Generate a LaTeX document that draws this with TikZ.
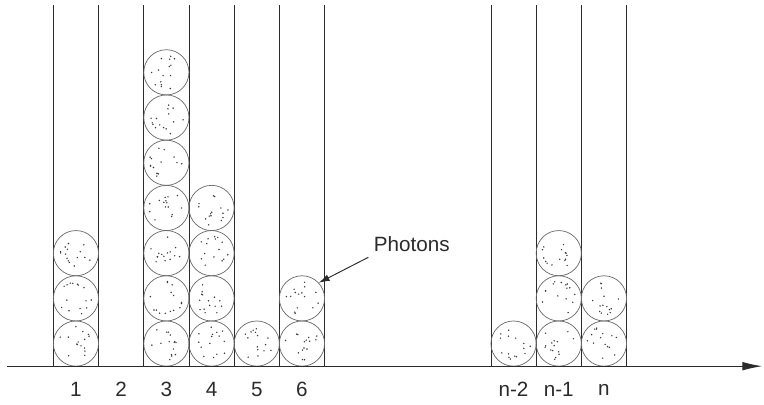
\documentclass[tikz,border=0pt]{standalone}
\usepackage{fontspec}
\setmainfont{Liberation Sans}
\usetikzlibrary{arrows.meta}
\definecolor{ink}{HTML}{2B2B2B}
\definecolor{rim}{HTML}{6A6A6A}
\definecolor{grain}{HTML}{3C3C3C}
\tikzset{
  wall/.style  ={draw=ink, line width=.55pt},
  axis/.style  ={draw=ink, line width=.6pt, -{Latex[length=4.4mm,width=1.9mm]}},
  photon/.style={draw=rim, line width=.45pt, circle, minimum size=1cm, inner sep=0pt},
  ptr/.style   ={draw=ink, line width=.6pt, -{Latex[length=2.4mm,width=1.5mm]}},
  num/.style   ={font=\fontsize{13}{15}\selectfont, color=ink},
}
\begin{document}
\begin{tikzpicture}
  \useasboundingbox (-0.18,-0.84) rectangle (16.72,8.10);
  \pgfmathsetseed{4711}

  % cell walls
  \foreach \x in {1,2,3,4,5,6,7,10.68,11.68,12.68,13.68}
    \draw[wall] (\x,0) -- (\x,8);

  % photons stacked in the cells
  \foreach \k/\x/\n in {1/1.5/3, 3/3.5/7, 4/4.5/4, 5/5.5/1, 6/6.5/2, a/11.18/1, b/12.18/3, c/13.18/2} {
    \foreach \j in {1,...,\n} {
      \node[photon] (p\k-\j) at (\x,\j-0.5) {};
      \foreach \i in {1,...,15} {
        \pgfmathsetmacro\rr{0.38*sqrt(rnd)}
        \pgfmathsetmacro\aa{360*rnd}
        \fill[grain] (p\k-\j.center) ++(\aa:\rr) circle (0.018);
      }
    }
  }

  % axis
  \draw[axis] (-0.03,0) -- (16.68,0);

  % cell numbers
  \foreach \t/\x in {1/1.5, 2/2.5, 3/3.5, 4/4.5, 5/5.5, 6/6.5, n-2/11.18, n-1/12.18, n/13.18}
    \node[num] (l\t) at (\x,-0.52) {\t};

  \node[num] (lbl) at (8.93,2.70) {Photons};
  \draw[ptr] (lbl.south west) -- (p6-2.43);
\end{tikzpicture}
\end{document}
